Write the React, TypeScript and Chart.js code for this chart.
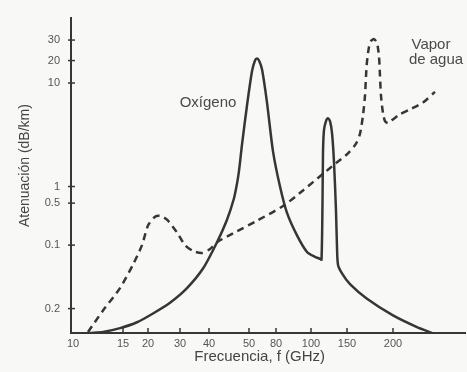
import React, { useEffect, useRef } from "react";
import { Chart, registerables } from "chart.js";
Chart.register(...registerables);

// Axis positions (the printed axes are not to scale, so positions are in axis units)
const xTickPos = [2, 52, 77, 109, 138, 178, 205, 240, 276, 322];
const xTickLabels = ["10", "15", "20", "30", "40", "50", "80", "100", "150", "200"];
const yTickPos = [300, 279, 256, 150, 133, 90, 25];
const yTickLabels = ["30", "20", "10", "1", "0.5", "0.1", "0.2"];

// Oxygen attenuation curve (solid)
const oxygenX = [19, 32, 49, 66, 82, 99, 116, 132, 146, 156, 163, 166, 168, 171, 176, 181, 184, 186, 188, 191, 196, 202, 209, 216, 226, 236, 244, 249, 250.5, 251.5, 252, 253, 255, 257, 259, 261, 263, 265, 266, 267, 271, 279, 296, 322, 346, 361];
const oxygenY = [0, 1, 5, 11, 20, 31, 46, 66, 93, 116, 138, 153, 166, 193, 233, 268, 279, 281, 279, 270, 236, 186, 150, 123, 100, 83, 78, 76, 75, 133, 185, 208, 217, 220, 217, 205, 175, 125, 88, 70, 61, 50, 35, 18, 6, 0];

// Water vapour attenuation curve (dashed)
const vaporX = [17, 32, 49, 62, 71, 77, 84, 89, 96, 106, 114, 122, 131, 139, 146, 162, 186, 212, 232, 252, 265, 277, 285, 289, 292, 294, 295, 296, 298, 300, 303, 306, 308, 309, 310, 312, 314, 317, 321, 329, 339, 352, 364];
const vaporY = [1, 23, 46, 70, 90, 110, 119, 120, 116, 103, 90, 84, 82, 86, 93, 102, 115, 130, 146, 163, 174, 184, 194, 204, 223, 243, 263, 278, 293, 299, 301, 297, 283, 263, 243, 225, 217, 215, 218, 224, 229, 236, 247];

const annotations = [
  { text: "Oxígeno", x: 137, y: 236 },
  { text: "Vapor", x: 360, y: 295 },
  { text: "de agua", x: 365, y: 280 },
];

const INK = "#363636";
const FONT = "'Liberation Sans', Arial, Helvetica, sans-serif";

const toPts = (xs: number[], ys: number[]) => xs.map((x, i) => ({ x, y: ys[i] }));

const decorPlugin = {
  id: "decor",
  afterDraw(chart: any) {
    const { ctx, scales } = chart;
    const xs = scales.x;
    const ys = scales.y;
    ctx.save();
    ctx.strokeStyle = INK;
    ctx.lineWidth = 1.5;
    xTickPos.forEach((v, i) => {
      if (i === 0) return;
      const px = xs.getPixelForValue(v);
      ctx.beginPath();
      ctx.moveTo(px, ys.bottom);
      ctx.lineTo(px, ys.bottom - 5);
      ctx.stroke();
    });
    yTickPos.forEach((v) => {
      const py = ys.getPixelForValue(v);
      ctx.beginPath();
      ctx.moveTo(xs.left - 3, py);
      ctx.lineTo(xs.left + 4, py);
      ctx.stroke();
    });
    ctx.fillStyle = "#4a4a4a";
    ctx.font = `15px ${FONT}`;
    ctx.textAlign = "center";
    ctx.textBaseline = "middle";
    annotations.forEach((a) => {
      ctx.fillText(a.text, xs.getPixelForValue(a.x), ys.getPixelForValue(a.y));
    });
    ctx.restore();
  },
};

export default function App() {
  const ref = useRef<HTMLCanvasElement>(null);
  useEffect(() => {
    if (!ref.current) return;
    const chart = new Chart(ref.current, {
      type: "scatter",
      data: {
        datasets: [
          {
            label: "Oxígeno",
            data: toPts(oxygenX, oxygenY),
            showLine: true,
            borderColor: INK,
            borderWidth: 2.5,
            pointRadius: 0,
            tension: 0.25,
          },
          {
            label: "Vapor de agua",
            data: toPts(vaporX, vaporY),
            showLine: true,
            borderColor: INK,
            borderWidth: 2.5,
            borderDash: [7, 5],
            pointRadius: 0,
            tension: 0.25,
          },
        ],
      },
      options: {
        animation: false,
        responsive: false,
        maintainAspectRatio: false,
        layout: { padding: { left: 0, top: 10, right: 2, bottom: 0 } },
        plugins: { legend: { display: false }, tooltip: { enabled: false } },
        scales: {
          x: {
            type: "linear",
            min: 0,
            max: 394,
            grid: { display: false, drawTicks: false },
            border: { display: true, color: INK, width: 2 },
            afterBuildTicks: (s: any) => {
              s.ticks = xTickPos.map((v) => ({ value: v }));
            },
            afterFit: (s: any) => {
              s.height = 39;
            },
            ticks: {
              autoSkip: false,
              maxRotation: 0,
              padding: 4,
              color: "#555",
              font: { family: FONT, size: 11 },
              callback: (v: any) => {
                const i = xTickPos.indexOf(Number(v));
                return i >= 0 ? xTickLabels[i] : "";
              },
            },
            title: {
              display: true,
              text: "Frecuencia, f (GHz)    ",
              color: "#444",
              font: { family: FONT, size: 15 },
              padding: { top: 0, bottom: 6 },
            },
          },
          y: {
            type: "linear",
            min: 0,
            max: 323,
            grid: { display: false, drawTicks: false },
            border: { display: true, color: INK, width: 2 },
            afterBuildTicks: (s: any) => {
              s.ticks = yTickPos.map((v) => ({ value: v }));
            },
            afterFit: (s: any) => {
              s.width = 71;
            },
            ticks: {
              autoSkip: false,
              padding: 11,
              color: "#555",
              font: { family: FONT, size: 11 },
              callback: (v: any) => {
                const i = yTickPos.indexOf(Number(v));
                return i >= 0 ? yTickLabels[i] : "";
              },
            },
            title: {
              display: true,
              text: "     Atenuación (dB/km)",
              color: "#444",
              font: { family: FONT, size: 14 },
              padding: { top: 17, bottom: 0 },
            },
          },
        },
      },
      plugins: [decorPlugin],
    });
    return () => chart.destroy();
  }, []);
  return (
    <div style={{ position: "fixed", left: 0, top: 0, width: 467, height: 372, background: "#f8f8f6" }}>
      <canvas ref={ref} width={467} height={372} style={{ display: "block" }} />
    </div>
  );
}
